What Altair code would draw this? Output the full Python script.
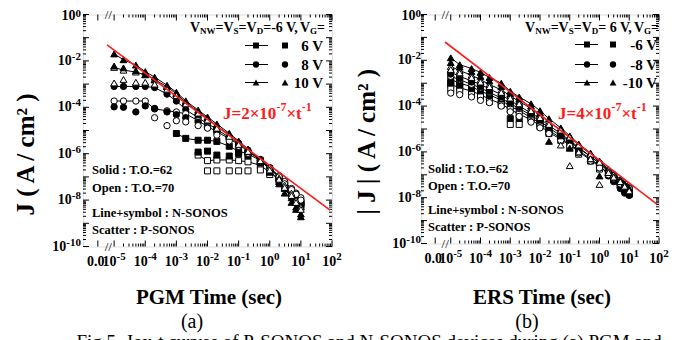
import altair as alt
import pandas as pd

SERIF = "Liberation Serif"
RED = "#ff1a1a"

# ---------------- data (log10 of current density, A/cm^2) ----------------
T = [1e-5, 2e-5, 5e-5, 1e-4, 2e-4, 5e-4, 1e-3, 2e-3, 5e-3, 1e-2, 2e-2, 5e-2,
     0.1, 0.2, 0.5, 1, 2, 3, 5, 7, 10]
N = None

# panel (a) PGM
a_N10_solid = [-1.70, -1.95, -2.18, -2.46, -2.70, -3.05, -3.35, -3.72, -4.12, -4.42, -4.72, -5.12, -5.45, -5.80, -6.25, -6.70, -7.20, -7.50, -7.90, -8.30, -8.60]
a_N10_open = [-2.28, -2.40, -2.48, -2.60, -2.80, -3.12, -3.42, -3.78, -4.18, -4.48, -4.80, -5.18, -5.50, -5.85, -6.25, -6.60, -7.05, -7.35, -7.70, -8.00, -8.30]
a_P10_solid = [-2.22, -2.30, -2.42, -2.58, -2.82, -3.10, -3.40, -3.80, -4.20, -4.50, -4.80, -5.20, -5.55, -5.90, -6.35, -6.80, -7.30, -7.70, -8.10, -8.40, -8.72]
a_P10_open = [-2.95, -2.80, -2.92, -2.92, -3.00, -3.22, -3.50, -3.85, -4.25, -4.55, -4.90, -5.25, -5.60, -5.90, -6.30, -6.70, -7.10, -7.45, -7.80, -8.10, -8.40]
a_N8_solid = [-3.10, -3.10, -3.10, -3.10, -3.15, -3.43, -3.73, -4.10, -4.45, -4.70, -4.95, -5.30, -5.55, -5.85, -6.25, -6.60, -7.00, -7.25, -7.60, -7.90, -8.10]
a_N8_open = [-3.73, -3.73, -3.73, -3.73, -4.07, -4.15, -4.20, -4.28, -4.58, -4.83, -5.05, -5.35, -5.60, -5.90, -6.28, -6.62, -6.95, -7.20, -7.50, -7.70, -7.90]
a_P8_solid = [-3.98, -4.00, -4.20, -3.94, -4.05, -4.20, -4.32, -4.45, -4.65, -4.88, -5.08, -5.38, -5.62, -5.92, -6.30, -6.70, -7.10, -7.40, -7.70, -7.95, -8.20]
a_P8_open = [N, N, N, N, -4.45, -4.79, -4.58, -4.63, -4.79, -4.90, -5.20, -5.45, -5.68, -5.98, -6.35, -6.70, -7.00, -7.30, -7.55, -7.75, -8.00]
a_N6_solid = [N, N, N, N, N, N, -5.13, -5.34, -5.42, -5.42, -5.47, -5.68, -5.90, -6.00, -6.30, -6.65, -7.00, -7.25, -7.60, -7.85, -8.10]
a_N6_open = [N, N, N, N, N, N, N, N, -6.06, -6.30, -6.27, -6.27, -6.30, -6.35, -6.50, -6.80, -7.10, -7.35, -7.65, -7.90, -8.20]
a_P6_solid = [N, N, N, N, N, N, N, N, -5.93, -5.89, -6.06, -6.10, -6.00, -6.10, -6.40, -6.75, -7.10, -7.40, -7.70, -8.00, -8.30]
a_P6_open = [N, N, N, N, N, N, N, N, N, -6.74, -6.74, -6.74, -6.74, -6.74, -6.70, -6.90, -7.20, -7.45, -7.70, -7.90, -8.10]

# panel (b) ERS
b_N10_solid = [-1.89, -2.19, -2.36, -2.53, -2.75, -3.00, -3.35, -3.60, -3.90, -4.20, -4.55, -4.95, -5.30, -5.65, -6.05, -6.40, -6.75, -6.95, -7.20, -7.40, -7.60]
b_N10_open = [-2.27, -2.45, -2.65, -2.85, -3.05, -3.30, -3.55, -3.80, -4.10, -4.40, -4.70, -5.05, -5.35, -5.70, -6.10, -6.45, -6.80, -7.00, -7.25, -7.45, -7.65]
b_P10_solid = [-2.10, -2.30, -2.50, -2.70, -2.90, -3.15, -3.45, -3.70, -4.00, -4.30, -5.54, -5.30, -5.84, -5.95, -6.30, -7.05, -6.90, -7.10, -7.30, -7.50, -7.70]
b_P10_open = [-2.40, -2.55, -2.75, -2.95, -3.15, -3.40, -3.65, -3.90, -4.20, -4.50, -4.80, -5.70, -6.60, -6.00, -6.30, -7.42, -6.90, -7.10, -7.30, -7.50, -7.70]
b_N8_solid = [-2.53, -2.70, -2.90, -3.05, -3.25, -3.50, -3.75, -4.00, -4.30, -4.55, -4.85, -5.20, -5.50, -5.80, -6.20, -6.50, -6.85, -7.05, -7.35, -7.55, -7.75]
b_N8_open = [-2.70, -2.85, -3.05, -3.20, -3.40, -3.65, -3.90, -4.10, -4.40, -4.65, -4.95, -5.30, -5.55, -5.85, -6.20, -6.50, -6.85, -7.00, -7.25, -7.40, -7.55]
b_P8_solid = [-2.60, -2.80, -2.95, -3.15, -3.35, -3.60, -3.85, -4.05, -4.35, -4.60, -4.90, -5.25, -5.55, -5.90, -6.35, -6.70, -7.05, -7.30, -7.60, -7.80, -7.90]
b_P8_open = [-3.43, -3.50, -3.60, -3.75, -3.85, -4.00, -4.25, -4.45, -4.70, -4.95, -5.20, -5.50, -5.75, -6.05, -6.40, -6.70, -7.00, -7.15, -7.40, -7.50, -7.60]
b_N6_solid = [-2.83, -3.00, -3.15, -3.35, -3.50, -3.75, -4.00, -4.20, -4.50, -4.75, -5.05, -5.40, -5.65, -5.95, -6.30, -6.60, -6.95, -7.15, -7.45, -7.60, -7.80]
b_N6_open = [-3.05, -3.20, -3.35, -3.50, -3.70, -3.90, -4.15, -4.35, -4.60, -4.85, -5.15, -5.45, -5.70, -6.00, -6.35, -6.65, -6.95, -7.10, -7.35, -7.50, -7.65]
b_P6_solid = [-3.00, -3.10, -3.30, -3.40, -3.60, -3.85, -4.55, -4.60, -4.40, -4.70, -5.00, -5.35, -5.60, -5.90, -6.30, -6.60, -6.95, -7.15, -7.45, -7.65, -7.85]
b_P6_open = [-3.26, -3.35, -3.50, -3.60, -3.80, -3.95, -4.80, -4.80, -4.50, -4.90, -5.20, -5.50, -5.80, -6.10, -6.40, -6.75, -7.00, -7.20, -7.45, -7.60, -7.70]

# fitted red lines (end points)
fit_a_t = [5.9e-6, 87.0]
fit_a_J = [4.9e-2, 3.7e-9]
fit_b_t = [6.4e-6, 85.0]
fit_b_J = [6.3e-2, 5.2e-9]

# axis labels
Y_LABEL_VALUES = [1, 1e-2, 1e-4, 1e-6, 1e-8, 1e-10]
Y_LABEL_EXP = ["0", "-2", "-4", "-6", "-8", "-10"]
X_LABEL_VALUES = [1e-5, 1e-4, 1e-3, 1e-2, 1e-1, 1, 10, 100]
X_LABEL_EXP = ["-5", "-4", "-3", "-2", "-1", "0", "1", "2"]
X_ZERO_VALUE = [3e-6]
X_BREAK_VALUE = [6.5e-6]

LEG_A = ["6 V", "8 V", "10 V"]
LEG_B = ["-6 V", "-8 V", "-10 V"]
NOTES = ["Solid : T.O.=62", "Open : T.O.=70", "Line+symbol : N-SONOS", "Scatter : P-SONOS"]
CAPTION = "Fig.5. Jox-t curves of P-SONOS and N-SONOS devices during (a) PGM and"

# ---------------- helpers ----------------
SIZES = {"square": 36, "circle": 40, "triangle-up": 46}
SHAPES = ["square", "circle", "triangle-up"]
CW = {" ": 250, "=": 570, "-": 333, ",": 250, ".": 250, "\u00d7": 570, "V": 722, "N": 722,
      "W": 1000, "S": 556, "D": 722, "G": 778, "J": 500, "t": 333}
DUMMY = pd.DataFrame({"d": [0]})
TOP = 13  # page y of the plot frame top


def tw(s, fs):
    return sum(CW.get(c, 500) for c in s) * fs / 1000.0


def build_df(series):
    rows = []
    for name, shape, fill, kind, vals in series:
        for t, v in zip(T, vals):
            if v is None:
                continue
            rows.append(dict(t=t, J=10 ** v, s=name, shape=shape, fill=fill, kind=kind, sz=SIZES[shape]))
    return pd.DataFrame(rows)


def series_list(p):
    g = globals()
    out = []
    for volt, shape in zip(p["volts"], SHAPES):
        for kind in ["N", "P"]:
            for f, fill in [("solid", "black"), ("open", "white")]:
                name = f"{p['key']}_{kind}{volt}_{f}"
                out.append((name, shape, fill, kind, g[name]))
    return out


def rich(segs, x0, y0, color, anchor="left"):
    total = sum(tw(s, fs) for s, fs, dy in segs)
    x = x0 - total if anchor == "right" else x0
    out = []
    for s, fs, dy in segs:
        out.append(alt.Chart(DUMMY).mark_text(text=s, align="left", baseline="alphabetic", font=SERIF,
                                              fontSize=fs, fontWeight="bold", color=color)
                   .encode(x=alt.value(x), y=alt.value(y0 + dy)))
        x += tw(s, fs)
    return out


def panel(p):
    w, h = p["w"], p["h"]
    xs = alt.Scale(type="log", domain=[1e-6, 1e2], nice=False)
    ys = alt.Scale(type="log", domain=[1e-10, 1], nice=False)

    def X(f):
        return alt.X(f, type="quantitative", scale=xs, axis=None)

    def Y(f):
        return alt.Y(f, type="quantitative", scale=ys, axis=None)

    def py(page_y):  # page y -> plot-relative y
        return page_y - TOP

    df = build_df(series_list(p))
    L = []
    # ticks (inward, mirrored)
    ymaj = pd.DataFrame({"v": [10.0 ** -k for k in range(0, 11)]})
    ymin = pd.DataFrame({"v": [m * 10.0 ** -k for k in range(1, 11) for m in range(2, 10)]})
    xmaj = pd.DataFrame({"v": X_ZERO_VALUE + X_LABEL_VALUES})
    xmin = pd.DataFrame({"v": [m * 10.0 ** k for k in range(-5, 2) for m in range(2, 10)]})
    for d, ln in [(ymaj, 6), (ymin, 3)]:
        L.append(alt.Chart(d).mark_rule(color="black", strokeWidth=1).encode(y=Y("v"), x=alt.value(0), x2=alt.value(ln)))
        L.append(alt.Chart(d).mark_rule(color="black", strokeWidth=1).encode(y=Y("v"), x=alt.value(w), x2=alt.value(w - ln)))
    for d, ln in [(xmaj, 6), (xmin, 3)]:
        L.append(alt.Chart(d).mark_rule(color="black", strokeWidth=1).encode(x=X("v"), y=alt.value(h), y2=alt.value(h - ln)))
        L.append(alt.Chart(d).mark_rule(color="black", strokeWidth=1).encode(x=X("v"), y=alt.value(0), y2=alt.value(ln)))

    # data
    L.append(alt.Chart(df[df.kind == "N"]).mark_line(color="black", strokeWidth=1)
             .encode(x=X("t"), y=Y("J"), detail="s:N"))
    L.append(alt.Chart(df).mark_point(filled=True, stroke="black", strokeWidth=1, opacity=1)
             .encode(x=X("t"), y=Y("J"), shape=alt.Shape("shape:N", scale=None),
                     fill=alt.Fill("fill:N", scale=None), size=alt.Size("sz:Q", scale=None)))
    fit = pd.DataFrame({"t": p["fit_t"], "J": p["fit_J"]})
    L.append(alt.Chart(fit).mark_line(color=RED, strokeWidth=1.6).encode(x=X("t"), y=Y("J")))

    # y tick labels (the top one nudged down so it is not clipped)
    ydf = pd.DataFrame({"v": Y_LABEL_VALUES, "e": Y_LABEL_EXP})
    R = p["ylab_right"]
    for part, shift, edy in [(ydf[ydf.v == 1], 1, -2), (ydf[ydf.v != 1], 0, -4)]:
        L.append(alt.Chart(part).mark_text(align="right", baseline="middle", dy=shift + edy, font=SERIF, fontSize=11,
                                           fontWeight="bold", color="black")
                 .encode(x=alt.value(R), y=Y("v"), text="e:N"))
        for n in sorted(set(part.e.str.len())):
            sub = part[part.e.str.len() == n]
            ew = tw(sub.e.iloc[0], 11)
            L.append(alt.Chart(sub).mark_text(text="10", align="right", baseline="middle", dy=shift, font=SERIF,
                                              fontSize=14, fontWeight="bold", color="black")
                     .encode(x=alt.value(R - ew), y=Y("v")))
    # x tick labels
    xdf = pd.DataFrame({"v": X_LABEL_VALUES, "e": X_LABEL_EXP})
    for n in sorted(set(len(e) for e in X_LABEL_EXP)):
        sub = xdf[xdf.e.str.len() == n]
        ew = tw(sub.e.iloc[0], 11)
        d = (14 - ew) / 2
        L.append(alt.Chart(sub).mark_text(text="10", align="right", baseline="alphabetic", dx=d, font=SERIF,
                                          fontSize=14, fontWeight="bold", color="black")
                 .encode(x=X("v"), y=alt.value(h + 19)))
        L.append(alt.Chart(sub).mark_text(align="left", baseline="alphabetic", dx=d, font=SERIF,
                                          fontSize=11, fontWeight="bold", color="black")
                 .encode(x=X("v"), y=alt.value(h + 13), text="e:N"))
    L.append(alt.Chart(pd.DataFrame({"v": X_ZERO_VALUE})).mark_text(text="0.0", align="center", baseline="alphabetic",
                                                                   dx=-2, font=SERIF, fontSize=14, fontWeight="bold")
             .encode(x=X("v"), y=alt.value(h + 19)))
    # axis break marks
    bdf = pd.DataFrame({"v": X_BREAK_VALUE})
    for yy in [0, h]:
        L.append(alt.Chart(bdf).mark_text(text="//", align="center", baseline="middle", font=SERIF, fontSize=13)
                 .encode(x=X("v"), y=alt.value(yy)))

    # titles
    L.append(alt.Chart(DUMMY).mark_text(text=p["ytitle"], angle=270, align="left", baseline="middle", font=SERIF,
                                        fontSize=25, fontWeight="bold", color="black")
             .encode(x=alt.value(p["ytx"]), y=alt.value(py(p["yty"]))))
    L.append(alt.Chart(DUMMY).mark_text(text=p["xtitle"], align="center", baseline="alphabetic", font=SERIF,
                                        fontSize=21, fontWeight="bold", color="black")
             .encode(x=alt.value(p["xtx"]), y=alt.value(py(302))))
    L.append(alt.Chart(DUMMY).mark_text(text=p["tag"], align="center", baseline="alphabetic", font=SERIF,
                                        fontSize=20, fontWeight="normal", color="black")
             .encode(x=alt.value(p["tagx"]), y=alt.value(py(326))))

    # legend header
    L += rich(p["header"], p["leg_right"] + 2, py(30), "black", anchor="right")
    # legend rows
    x1, x2, xm, xsct, xr = p["leg_x"]
    for lab, shp, yv in zip(p["leg"], SHAPES, p["leg_y"]):
        yv = py(yv)
        L.append(alt.Chart(DUMMY).mark_rule(color="black", strokeWidth=1)
                 .encode(x=alt.value(x1), x2=alt.value(x2), y=alt.value(yv)))
        for xx in [xm, xsct]:
            L.append(alt.Chart(DUMMY).mark_point(shape=shp, filled=True, color="black", size=SIZES[shp], opacity=1)
                     .encode(x=alt.value(xx), y=alt.value(yv)))
        L.append(alt.Chart(DUMMY).mark_text(text=lab, align="right", baseline="middle", font=SERIF, fontSize=15,
                                            fontWeight="bold", color="black")
                 .encode(x=alt.value(xr), y=alt.value(yv)))
    # red fit annotation
    L += rich(p["fit_label"], p["fit_x"], py(117), RED)
    # notes
    for txt, yb in zip(NOTES, p["note_y"]):
        L.append(alt.Chart(DUMMY).mark_text(text=txt, align="left", baseline="alphabetic", font=SERIF, fontSize=12.5,
                                            fontWeight="bold", color="black")
                 .encode(x=alt.value(p["note_x"]), y=alt.value(py(yb))))
    return alt.layer(*L).properties(width=w, height=h)


def header(vd):
    return [("V", 14, 0), ("NW", 9, 2), ("=", 14, 0), ("V", 14, 0), ("S", 9, 2), ("=", 14, 0),
            ("V", 14, 0), ("D", 9, 2), ("=" + vd + " V,", 14, 0), ("V", 14, 0), ("G", 9, 2), ("=", 14, 0)]


def fit_label(k):
    return [("J=" + k + "\u00d710", 17, 0), ("-7", 12, -8), ("\u00d7t", 17, 0), ("-1", 12, -8)]


pa = panel(dict(key="a", volts=[6, 8, 10], w=249, h=232, fit_t=fit_a_t, fit_J=fit_a_J, ylab_right=-2,
                ytitle="J ( A / cm\u00b2 )", ytx=-57, yty=214, xtitle="PGM Time (sec)", xtx=126,
                tag="(a)", tagx=109, header=header("-6"), leg_right=240, leg=LEG_A, leg_y=[44, 63, 81],
                leg_x=[162, 185, 173, 202, 240], fit_label=fit_label("2"), fit_x=140,
                note_x=9, note_y=[172, 190, 215, 232]))
pb = panel(dict(key="b", volts=[6, 8, 10], w=238, h=229, fit_t=fit_b_t, fit_J=fit_b_J, ylab_right=0,
                ytitle="| J | ( A / cm\u00b2 )", ytx=-54, yty=213, xtitle="ERS Time (sec)", xtx=121,
                tag="(b)", tagx=106, header=header(" 6"), leg_right=236, leg=LEG_B, leg_y=[43, 63, 81],
                leg_x=[154, 177, 166, 192, 236], fit_label=fit_label("4"), fit_x=137,
                note_x=7, note_y=[171, 188, 212, 229]))

chart = (alt.hconcat(pa, pb, spacing=11)
         .properties(padding={"left": 5, "top": -1.5, "right": 0, "bottom": 0},
                     title=alt.TitleParams(CAPTION, orient="bottom", anchor="start", font=SERIF, fontSize=19,
                                           fontWeight="normal", color="black", offset=1, dx=63))
         .configure_view(stroke="black", strokeWidth=1.2)
         .configure(background="white"))

chart.save("out.html", embed_options={"renderer": "svg", "actions": False})
